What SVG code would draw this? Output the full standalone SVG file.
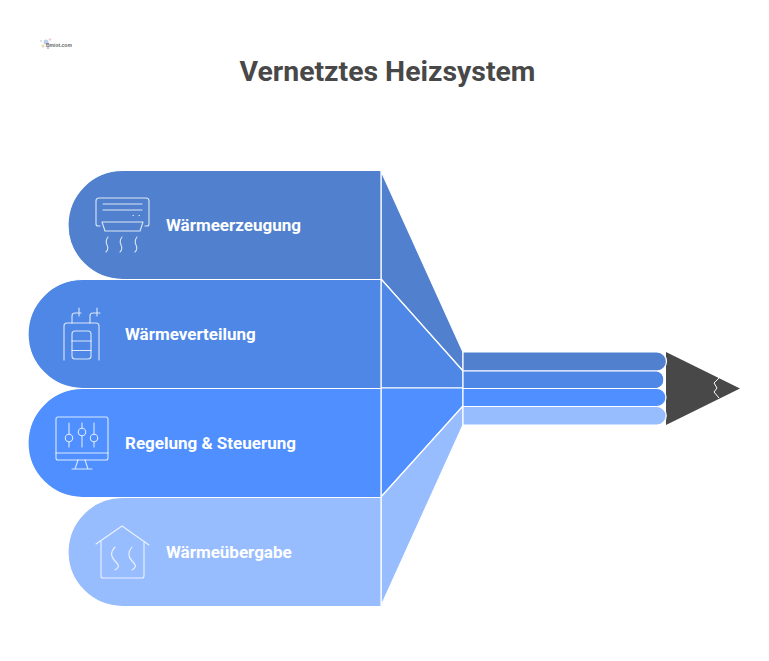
<svg xmlns="http://www.w3.org/2000/svg" width="769" height="661" viewBox="0 0 769 661">
<style>
.s{stroke:#fff;stroke-width:1.2;stroke-linejoin:round}
.c1{fill:#5181ce}.c2{fill:#4e87e6}.c3{fill:#4f8fff}.c4{fill:#98bdff}
.i{fill:none;stroke:#fff;stroke-opacity:.8;stroke-width:1.1;stroke-linecap:round;stroke-linejoin:round}
.t{font-family:Roboto,"Liberation Sans",sans-serif;font-weight:700;font-size:17px;fill:#fff}
</style>
<rect width="769" height="661" fill="#fff"/>
<g id="logo">
<circle cx="46" cy="42" r="2.500" fill="#bcd0ea"/><circle cx="50" cy="39.500" r="1.300" fill="#eccfd2"/><circle cx="43" cy="46" r="1.500" fill="#e8d8b0"/><circle cx="48" cy="48" r="1.300" fill="#b8d0ee"/><circle cx="41" cy="41" r="1" fill="#d8d8e8"/>
<text x="46" y="47" font-family="'Liberation Sans',sans-serif" font-size="5" font-weight="700" fill="#666">Bmiot.com</text>
</g>
<text id="title" x="387.500" y="81" text-anchor="middle" font-family="Roboto,'Liberation Sans',sans-serif" font-weight="700" font-size="28.400" fill="#484848">Vernetztes Heizsystem</text>
<g id="connectors">
<path class="s c1" d="M381 171L463 352V371L381 279Z"/>
<path class="s c2" d="M381 279L463 371V388H381Z"/>
<path class="s c3" d="M381 388H463V406L381 497Z"/>
<path class="s c4" d="M381 497L463 406V425L381 606Z"/>
</g>
<g id="tip">
<path d="M666 352L740 388.500L666 425Z" fill="#484848"/>
<path d="M719 378L714 383L717 388L714 392L719 398" fill="none" stroke="#fff" stroke-width="1"/>
</g>
<g id="node-1">
<path class="s c1" d="M381 170.500H122.500A54.500 54.500 0 0 0 122.500 279.500H381Z"/>
<path class="s c1" d="M463 352H657A9.200 9.200 0 0 1 657 371H463Z"/>
<g class="i"><path d="M100 226H98Q96 226 96 224V201Q96 198 99 198H146A3 3 0 0 1 149 201V224Q149 226 147 226H145"/><path d="M103 204H142M103 210H142M133 215.500H133.500M139 215.500H139.500M102 222H143L140 231H105Z"/><path d="M108 237Q105 241 107 245T106 252M122 237Q119 241 121 245T120 252M137 237Q134 241 136 245T135 252"/></g>
<text class="t" x="166" y="231">Wärmeerzeugung</text>
</g>
<g id="node-2">
<path class="s c2" d="M381 279.500H82.500A54.500 54.500 0 0 0 82.500 388.500H381Z"/>
<path class="s c2" d="M463 371H657A9 9 0 0 1 657 388.500H463Z"/>
<g class="i"><path d="M64 360V326Q64 323 67 323H96A3 3 0 0 1 99 326V360"/><rect x="72" y="331" width="19" height="28" rx="3"/><path d="M72 341H91M72 350.500H91"/><path d="M72 323V316Q72 313 75 313H81M79 308V316M90 323V316Q90 313 93 313H100M97 308V316"/></g>
<text class="t" x="125" y="340">Wärmeverteilung</text>
</g>
<g id="node-3">
<path class="s c3" d="M381 388.500H82.500A54.500 54.500 0 0 0 82.500 497.500H381Z"/>
<path class="s c3" d="M463 388.500H657A9 9 0 0 1 657 406.500H463Z"/>
<g class="i"><rect x="56" y="417" width="52" height="43" rx="2"/><path d="M56 453H108M78 460L75 469M85 460L88 469M72 469H92"/><path d="M69 423V434M69 442V447M82 423V428M82 436V447M94 423V434M94 442V447"/><circle cx="69" cy="438" r="3.700"/><circle cx="82" cy="432" r="3.700"/><circle cx="94" cy="438" r="3.700"/></g>
<text class="t" x="125" y="449">Regelung &amp; Steuerung</text>
</g>
<g id="node-4">
<path class="s c4" d="M381 497.500H122.500A54.500 54.500 0 0 0 122.500 606.500H381Z"/>
<path class="s c4" d="M463 406.500H657A9 9 0 0 1 657 425H463Z"/>
<g class="i"><path d="M96 544L122 526L149 545M101 541V576Q101 578 103 578H142Q144 578 144 576V541"/><path d="M115 547C109 553 112 558 115 561C119 565 120 567 115 570M132 547C127 553 129 558 132 561C136 565 137 567 132 570"/></g>
<text class="t" x="166" y="558">Wärmeübergabe</text>
</g>
</svg>
